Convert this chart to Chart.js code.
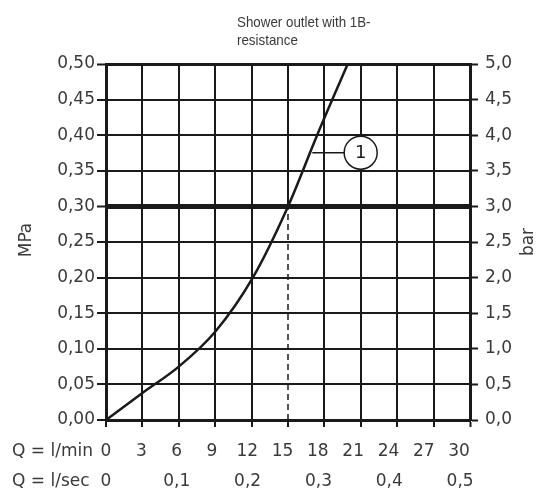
<!DOCTYPE html>
<html>
<head>
<meta charset="utf-8">
<script src="https://cdn.jsdelivr.net/npm/chart.js@4.4.1/dist/chart.umd.min.js"></script>
<style>
  body { margin: 0; background: #fff; }
  #chart { display: block; }
</style>
</head>
<body>
<canvas id="chart" width="539" height="489"></canvas>
<script>
// values
const flowLmin = [0, 3, 6, 9, 12.1, 15, 17.4, 19.92]
const pressureMPa = [0, 0.038, 0.075, 0.124, 0.20, 0.30, 0.40, 0.50]
const lminTicks = [0, 3, 6, 9, 12, 15, 18, 21, 24, 27, 30]
const lsecTicks = [0, 0.1, 0.2, 0.3, 0.4, 0.5]
const mpaTicks = [0, 0.05, 0.10, 0.15, 0.20, 0.25, 0.30, 0.35, 0.40, 0.45, 0.50]
const barTicks = [0, 0.5, 1.0, 1.5, 2.0, 2.5, 3.0, 3.5, 4.0, 4.5, 5.0]
const operatingPoint = [15, 0.30]
const markerPos = [20.99, 0.3754]
const leaderX = [17.0, 20.99]
const titleLines = ['Shower outlet with 1B-', 'resistance']
const curveLabel = '1'

const lineColor = '#1a1a1a'
const textColor = '#3a3a3a'
const tickFont = { family: 'DejaVu Sans', size: 17 }

function pts(xs, ys) {
  return xs.map((x, i) => ({ x: x, y: ys[i] }))
}
function comma(v, d) {
  return v.toFixed(d).replace('.', ',')
}
function fixTicks(list) {
  return function (scale) { scale.ticks = list.map(v => ({ value: v })) }
}

const textPlugin = {
  id: 'texts',
  afterDraw(chart) {
    const ctx = chart.ctx
    const s = chart.scales
    ctx.save()
    ctx.fillStyle = textColor
    // title (squeezed a bit, the original face is narrow)
    ctx.save()
    ctx.translate(237, 0)
    ctx.scale(0.89, 1)
    ctx.font = '15px "Liberation Sans", sans-serif'
    ctx.textAlign = 'left'
    ctx.textBaseline = 'alphabetic'
    ctx.fillText(titleLines[0], 0, 27)
    ctx.fillText(titleLines[1], 0, 45)
    ctx.restore()
    // axis row captions
    ctx.font = '17px "DejaVu Sans"'
    ctx.textAlign = 'left'
    ctx.textBaseline = 'middle'
    ctx.fillText('Q = l/min', 12, s.xq.top + 13 + 10.2)
    ctx.fillText('Q = l/sec', 12, s.xs.top + 13 + 10.2)
    // unit titles
    ctx.textAlign = 'center'
    ctx.save()
    ctx.translate(27, 240)
    ctx.rotate(-Math.PI / 2)
    ctx.fillText('MPa', 0, 0)
    ctx.restore()
    ctx.save()
    ctx.translate(529, 242)
    ctx.rotate(-Math.PI / 2)
    ctx.fillText('bar', 0, 0)
    ctx.restore()
    // curve number
    ctx.fillStyle = lineColor
    ctx.font = '18px "DejaVu Sans"'
    ctx.fillText(curveLabel, s.x.getPixelForValue(markerPos[0]), s.y.getPixelForValue(markerPos[1]) + 1)
    ctx.restore()
  }
}

const chart = new Chart(document.getElementById('chart'), {
  type: 'scatter',
  data: {
    datasets: [
      {
        data: pts([markerPos[0]], [markerPos[1]]),
        pointRadius: 16.5,
        pointBackgroundColor: '#fff',
        pointBorderColor: lineColor,
        pointBorderWidth: 1.5
      },
      {
        data: pts(leaderX, [markerPos[1], markerPos[1]]),
        showLine: true, borderColor: lineColor, borderWidth: 1.5, pointRadius: 0
      },
      {
        data: pts(flowLmin, pressureMPa),
        showLine: true, borderColor: lineColor, borderWidth: 2.5, pointRadius: 0,
        cubicInterpolationMode: 'monotone'
      },
      {
        data: pts([operatingPoint[0], operatingPoint[0]], [0, operatingPoint[1]]),
        showLine: true, borderColor: lineColor, borderWidth: 1.5, borderDash: [6, 4], pointRadius: 0
      },
      {
        data: pts([operatingPoint[0], operatingPoint[0]], [operatingPoint[1], mpaTicks[mpaTicks.length - 1]]),
        showLine: true, borderColor: lineColor, borderWidth: 2, pointRadius: 0
      }
    ]
  },
  options: {
    responsive: false,
    animation: false,
    devicePixelRatio: 1,
    layout: { padding: { top: 64, left: 0, right: 0, bottom: 0 } },
    plugins: { legend: { display: false }, tooltip: { enabled: false } },
    scales: {
      x: {
        type: 'linear', position: 'bottom', weight: 0,
        min: 0, max: 30,
        afterBuildTicks: fixTicks(lminTicks),
        afterFit: s => { s.height = 8 },
        ticks: { display: false },
        border: { color: lineColor, width: 3 },
        grid: {
          color: c => c.tick && c.tick.value === operatingPoint[0] ? 'rgba(0,0,0,0)' : lineColor,
          lineWidth: c => c.tick && c.tick.value === 30 ? 3 : 2,
          tickColor: lineColor, tickWidth: 2, tickLength: 7
        }
      },
      xq: {
        type: 'linear', position: 'bottom', weight: 1,
        min: 0, max: 30.93,
        afterBuildTicks: fixTicks(lminTicks),
        afterFit: s => { s.height = 30 },
        ticks: { color: textColor, font: tickFont, padding: 13, maxRotation: 0, autoSkip: false, callback: v => String(v) },
        border: { display: false },
        grid: { display: false, drawTicks: false }
      },
      xs: {
        type: 'linear', position: 'bottom', weight: 2,
        min: 0, max: 0.514,
        afterBuildTicks: fixTicks(lsecTicks),
        afterFit: s => { s.height = 31 },
        ticks: { color: textColor, font: tickFont, padding: 13, maxRotation: 0, autoSkip: false, callback: v => v === 0 ? '0' : comma(v, 1) },
        border: { display: false },
        grid: { display: false, drawTicks: false }
      },
      y: {
        type: 'linear', position: 'left',
        min: 0, max: 0.5,
        afterBuildTicks: fixTicks(mpaTicks),
        afterFit: s => { s.width = 106 },
        ticks: { color: textColor, font: tickFont, padding: 2, callback: v => comma(v, 2) },
        border: { color: lineColor, width: 3 },
        grid: {
          color: lineColor,
          lineWidth: c => {
            if (!c.tick) return 2
            if (Math.abs(c.tick.value - operatingPoint[1]) < 1e-9) return 5
            if (c.tick.value === 0.5) return 3
            return 2
          },
          tickColor: lineColor, tickWidth: 2, tickLength: 9
        }
      },
      y2: {
        type: 'linear', position: 'right',
        min: 0, max: 5,
        afterBuildTicks: fixTicks(barTicks),
        afterFit: s => { s.width = 69 },
        ticks: { color: textColor, font: tickFont, padding: 7, callback: v => comma(v, 1) },
        border: { color: lineColor, width: 3 },
        grid: { drawOnChartArea: false, color: lineColor, tickWidth: 2, tickLength: 8 }
      }
    }
  },
  plugins: [textPlugin]
})
</script>
</body>
</html>
